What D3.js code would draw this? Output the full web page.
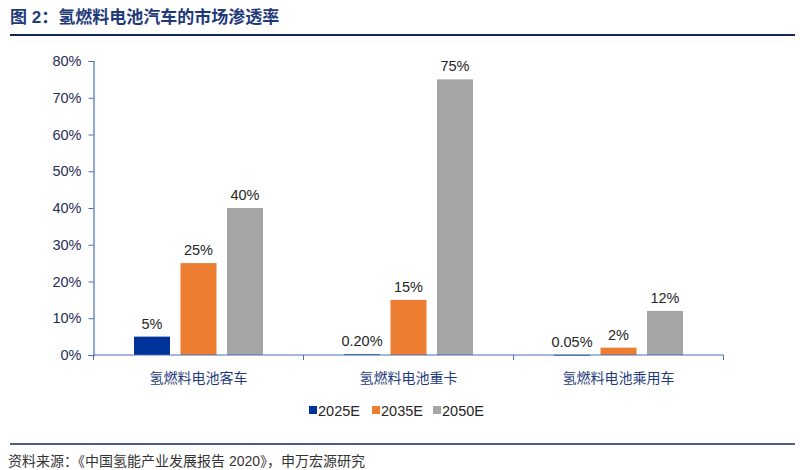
<!DOCTYPE html>
<html><head><meta charset="utf-8">
<script src="https://cdn.jsdelivr.net/npm/d3@7"></script>
<style>
body{margin:0;background:#fff;}
text{font-family:"Liberation Sans",Arial,"Noto Sans CJK SC",sans-serif;}
.cjk{font-family:"Liberation Sans","Noto Sans CJK SC",sans-serif;}
</style></head>
<body>
<svg id="c" width="800" height="470"></svg>
<script>
const categories = ["氢燃料电池客车","氢燃料电池重卡","氢燃料电池乘用车"];
const seriesNames = ["2025E","2035E","2050E"];
const v2025 = [5, 0.2, 0.05];
const v2035 = [25, 15, 2];
const v2050 = [40, 75, 12];
const valueLabels = [["5%","0.20%","0.05%"],["25%","15%","2%"],["40%","75%","12%"]];
const yTicks = [0,10,20,30,40,50,60,70,80];
const colors = ["#003399","#ED7D31","#A5A5A5"];

(function(){
const series = [v2025, v2035, v2050];
const svg = d3.select("#c");
const pLeft = 93.5, pRight = 723.5, pTop = 61, pBottom = 355;

// title
svg.append("text").attr("x",10).attr("y",23).attr("class","cjk")
  .attr("font-size",17).attr("font-weight","bold").attr("fill","#1F3A7A")
  .text("图 2：氢燃料电池汽车的市场渗透率");
svg.append("line").attr("x1",10).attr("x2",795).attr("y1",35).attr("y2",35)
  .attr("stroke","#14275C").attr("stroke-width",2);

const x0 = d3.scaleBand().domain(categories).range([pLeft,pRight]).paddingInner(0).paddingOuter(0);
const x1 = d3.scaleBand().domain(seriesNames).range([0,x0.bandwidth()]).paddingInner(0.2258).paddingOuter(0.871);
const y = d3.scaleLinear().domain([0,80]).range([pBottom,pTop]);

// y axis
const yAxis = svg.append("g").attr("transform",`translate(${pLeft},0)`)
  .call(d3.axisLeft(y).tickValues(yTicks).tickSize(5).tickPadding(7).tickFormat(d=>d+"%"));
yAxis.select(".domain").attr("stroke","#4A6FB5").attr("stroke-width",1.2);
yAxis.selectAll(".tick line").attr("stroke","#4A6FB5");
yAxis.selectAll(".tick text").attr("font-size",14.5).attr("fill","#1F2D5A");

// bars
const g = svg.append("g");
categories.forEach((c,ci)=>{
  seriesNames.forEach((s,si)=>{
    const v = series[si][ci];
    const bx = x0(c)+x1(s);
    g.append("rect").attr("x",bx).attr("y",y(v)).attr("width",x1.bandwidth())
      .attr("height",Math.max(y(0)-y(v),0.8)).attr("fill",colors[si]);
    g.append("text").attr("x",bx+x1.bandwidth()/2).attr("y",y(v)-8)
      .attr("text-anchor","middle").attr("font-size",14.5).attr("fill","#262626")
      .text(valueLabels[si][ci]);
  });
});

// x axis
const xAxisG = svg.append("g").attr("transform",`translate(0,${pBottom})`);
xAxisG.append("line").attr("x1",pLeft).attr("x2",pRight).attr("y1",0).attr("y2",0)
  .attr("stroke","#4A6FB5").attr("stroke-width",1.2);
const bounds = categories.map(c=>x0(c)).concat([x0(categories[categories.length-1])+x0.bandwidth()]);
bounds.forEach(b=>{
  xAxisG.append("line").attr("x1",b).attr("x2",b).attr("y1",0).attr("y2",5)
    .attr("stroke","#4A6FB5").attr("stroke-width",1);
});
categories.forEach(c=>{
  xAxisG.append("text").attr("class","cjk").attr("x",x0(c)+x0.bandwidth()/2).attr("y",28)
    .attr("text-anchor","middle").attr("font-size",14).attr("fill","#1F3A7A").text(c);
});

// legend
const legX = [309, 372, 433];
seriesNames.forEach((s,i)=>{
  svg.append("rect").attr("x",legX[i]).attr("y",406).attr("width",8).attr("height",8).attr("fill",colors[i]);
  svg.append("text").attr("x",legX[i]+9).attr("y",415.5).attr("font-size",14.5).attr("fill","#262626").text(s);
});

// footer
svg.append("line").attr("x1",10).attr("x2",795).attr("y1",444).attr("y2",444)
  .attr("stroke","#14275C").attr("stroke-width",1.5);
svg.append("text").attr("class","cjk").attr("x",8).attr("y",466).attr("font-size",14).attr("fill","#333")
  .text("资料来源：《中国氢能产业发展报告 2020》，申万宏源研究");
})();
</script>
</body></html>
